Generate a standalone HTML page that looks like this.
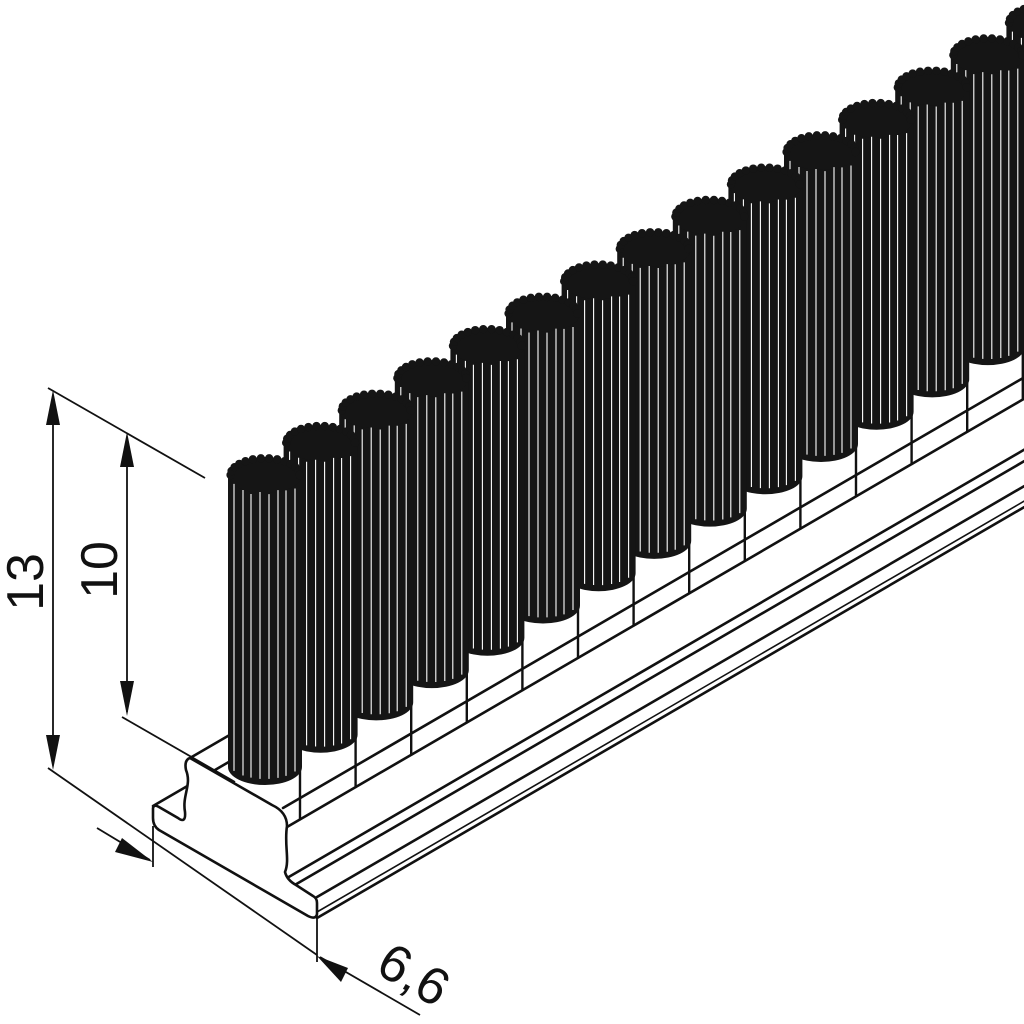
<!DOCTYPE html>
<html><head><meta charset="utf-8"><style>
html,body{margin:0;padding:0;background:#fff;}
svg{display:block;}
</style></head><body>
<svg id="s" width="1024" height="1024" viewBox="0 0 1024 1024" xmlns="http://www.w3.org/2000/svg">
<g id="base" stroke="#111" stroke-width="2.6" fill="none" stroke-linecap="round" stroke-linejoin="round"></g>
<g id="tufts"></g>
<g id="dims" stroke="#111" stroke-width="1.8" fill="none">
  <line x1="48" y1="388" x2="205" y2="478"/>
  <line x1="48" y1="768" x2="317" y2="955"/>
  <line x1="122" y1="717" x2="235" y2="782"/>
  <line x1="53" y1="395" x2="53" y2="765"/>
  <line x1="127" y1="440" x2="127" y2="712"/>
  <line x1="97" y1="828" x2="150" y2="860"/>
  <line x1="320" y1="957" x2="420" y2="1015"/>
  <line x1="153" y1="826" x2="153" y2="867"/>
  <line x1="317" y1="918" x2="317" y2="962"/>
</g>
<g fill="#111">
  <polygon points="53,390 46,425 60,425"/>
  <polygon points="53,770 46,735 60,735"/>
  <polygon points="127,432 120,467 134,467"/>
  <polygon points="127,716 120,681 134,681"/>
  <polygon points="153,862 122,838 115,852"/>
  <polygon points="317,956 348,968 341,982"/>
</g>
<g font-family="Liberation Sans, sans-serif" font-size="52" fill="#111">
  <text x="0" y="0" transform="translate(43,582) rotate(-90)" text-anchor="middle">13</text>
  <text x="0" y="0" transform="translate(117,570) rotate(-90)" text-anchor="middle">10</text>
  <text x="0" y="0" transform="translate(405,990) rotate(30)" text-anchor="middle">6,6</text>
</g>
</svg>
<script>
var NS="http://www.w3.org/2000/svg";
function el(p,t,a){var e=document.createElementNS(NS,t);for(var k in a)e.setAttribute(k,a[k]);p.appendChild(e);return e;}
var base=document.getElementById('base'),tg=document.getElementById('tufts');
var m=-0.581;
function ext(x,y,w){el(base,'line',{x1:x,y1:y,x2:1100,y2:y+m*(1100-x),'stroke-width':w||2.6});}
ext(190,758);ext(153,806);ext(283,808);ext(287,827);ext(287,878);ext(293,886);ext(317,897);ext(317,912,1.6);ext(317,918);
for(var i=0;i<15;i++){var x=300+55.6*i;var yb=827+m*(x-287);el(base,'line',{x1:x,y1:yb-75,x2:x,y2:yb,'stroke-width':2.4});}
el(base,'path',{d:"M190,758 L272,805 Q287,812 287,826 C284,845 290,860 285,872 Q287,880 296,885 L313,896 Q317,898 317,903 L317,914 Q316,920 308,916 L159,830 Q153,826 153,818 L153,808 Q154,804 159,807 L178,818 Q186,824 185,812 C182,795 192,785 186,770 Q184,760 190,758 Z",fill:"#fff"});
for(var i=15;i>=0;i--){
  var cx=265+55.6*i, ty=475-32.3*i, by=767-32.3*i, rx=37, ry=18;
  var g=el(tg,'g',{});
  el(g,'path',{d:"M"+(cx-rx)+","+ty+" L"+(cx-rx)+","+by+" A"+rx+","+ry+" 0 0 0 "+(cx+rx)+","+by+" L"+(cx+rx)+","+ty+" Z",fill:"#151515"});
  el(g,'ellipse',{cx:cx,cy:ty,rx:rx,ry:ry,fill:"#151515"});
  for(var k=0;k<14;k++){var a=Math.PI+Math.PI*k/13;el(g,'circle',{cx:cx+rx*0.93*Math.cos(a),cy:ty+ry*0.93*Math.sin(a),r:4.2,fill:"#151515"});}
  var offs=[-31,-22,-14,-5,4,13,21,30];
  for(var k=0;k<offs.length;k++){var x=cx+offs[k];var t=ty+ry*Math.sqrt(Math.max(0,1-(offs[k]/rx)*(offs[k]/rx)))*0.9+((k*7)%5);
    var b=by+ry*Math.sqrt(Math.max(0,1-(offs[k]/rx)*(offs[k]/rx)))-6;
    el(g,'line',{x1:x,y1:t,x2:x,y2:b,stroke:"#fff","stroke-width":1.1});}
}
</script>
</body></html>
